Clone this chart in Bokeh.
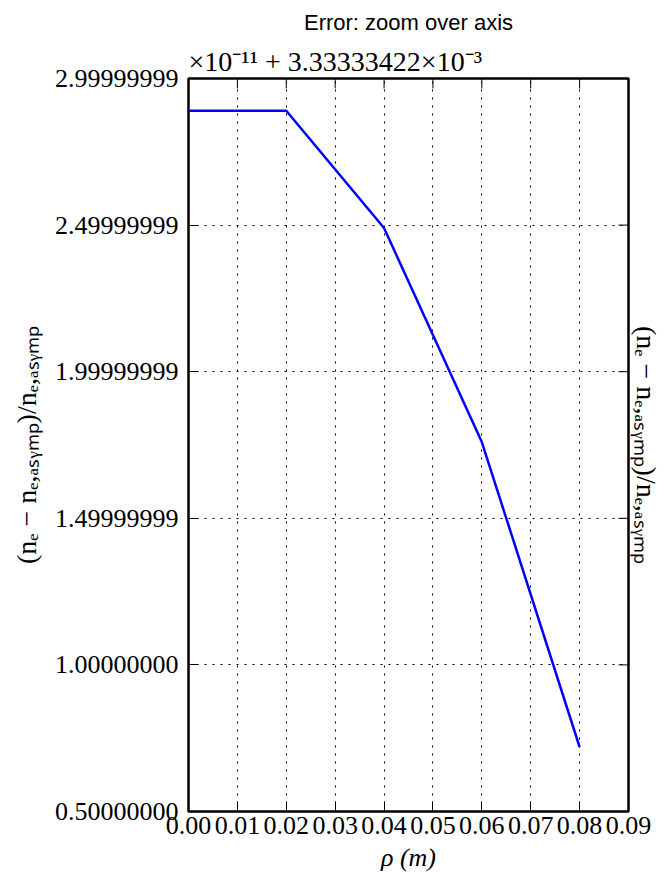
import math
from bokeh.plotting import figure
from bokeh.models import Range1d, FixedTicker, LinearAxis, Title
from bokeh.embed import file_html
from bokeh.resources import INLINE

# ---- data ----
rho = [0.0, 0.02, 0.04, 0.06, 0.08]
err = [2.89, 2.89, 2.49, 1.76, 0.72]

x_ticks = [0.0, 0.01, 0.02, 0.03, 0.04, 0.05, 0.06, 0.07, 0.08, 0.09]
x_tick_labels = ["0.00", "0.01", "0.02", "0.03", "0.04", "0.05", "0.06", "0.07", "0.08", "0.09"]
y_ticks = [0.5, 1.0, 1.5, 2.0, 2.5, 3.0]
y_tick_labels = ["0.50000000", "1.00000000", "1.49999999", "1.99999999", "2.49999999", "2.99999999"]

x_min, x_max = 0.0, 0.09
y_min, y_max = 0.5, 3.0

title_text = "Error: zoom over axis"
offset_text = "×10⁻¹¹ + 3.33333422×10⁻³"
y_label = "(nₑ − nₑ,ₐₛᵧₘₚ)/nₑ,ₐₛᵧₘₚ"
x_label = "ρ (m)"

SERIF = "Liberation Serif"
TICK_FS = "26px"

p = figure(width=664, height=879, title=None,
           min_border_left=188, min_border_right=28,
           min_border_top=77, min_border_bottom=68,
           x_range=Range1d(x_min, x_max), y_range=Range1d(y_min, y_max),
           output_backend="svg", toolbar_location=None,
           background_fill_color="white", border_fill_color="white")

p.outline_line_color = "black"
p.outline_line_width = 2.5
p.outline_line_alpha = 1.0

xt = FixedTicker(ticks=x_ticks)
yt = FixedTicker(ticks=y_ticks)

# grid
p.xgrid.ticker = xt
p.ygrid.ticker = yt
for g in (p.xgrid, p.ygrid):
    g.grid_line_color = "black"
    g.grid_line_width = 1
    g.grid_line_alpha = 1.0
    g.grid_line_dash = "2 6"

# data line
p.line(rho, err, line_color="#0000ff", line_width=2.5)

# inward ticks on the top and right edges
p.ray(x=x_ticks, y=[y_max] * len(x_ticks), length=10, length_units="screen",
      angle=-math.pi / 2, line_color="black", line_width=1)
p.ray(x=[x_max] * len(y_ticks), y=y_ticks, length=10, length_units="screen",
      angle=math.pi, line_color="black", line_width=1)

# bottom / left axes
xa = p.xaxis[0]
xa.ticker = xt
xa.major_label_overrides = dict(zip(x_ticks, x_tick_labels))
xa.axis_label = x_label
ya = p.yaxis[0]
ya.ticker = yt
ya.major_label_overrides = dict(zip(y_ticks, y_tick_labels))
ya.axis_label = y_label

for ax in (xa, ya):
    ax.axis_line_color = None
    ax.major_tick_in = 10
    ax.major_tick_out = 0
    ax.major_tick_line_color = "black"
    ax.major_tick_line_width = 1
    ax.minor_tick_line_color = None
    ax.major_label_text_font = SERIF
    ax.major_label_text_font_size = TICK_FS
    ax.major_label_text_color = "black"
    ax.axis_label_text_font = SERIF
    ax.axis_label_text_font_style = "normal"
    ax.axis_label_text_color = "black"

xa.major_label_standoff = 5
xa.axis_label_standoff = 6
xa.axis_label_text_font_size = "26px"
xa.axis_label_text_font_style = "italic"
ya.major_label_standoff = 10
ya.axis_label_standoff = 10
ya.axis_label_text_font_size = "28px"

# right axis: label only
ra = LinearAxis(ticker=FixedTicker(ticks=[]), axis_label=y_label)
ra.axis_line_color = None
ra.major_tick_line_color = None
ra.minor_tick_line_color = None
ra.major_label_standoff = 0
ra.major_tick_out = 0
ra.major_tick_in = 0
ra.axis_label_standoff = 2
ra.axis_label_text_font = SERIF
ra.axis_label_text_font_style = "normal"
ra.axis_label_text_font_size = "28px"
ra.axis_label_text_color = "black"
p.add_layout(ra, "right")

# offset text (closest to frame) then title
p.add_layout(Title(text=offset_text, align="left", standoff=4,
                   text_font=SERIF, text_font_size="28px",
                   text_font_style="normal", text_color="black"), "above")
p.add_layout(Title(text=title_text, align="center", standoff=14,
                   text_font="Liberation Sans", text_font_size="22px",
                   text_font_style="normal", text_color="black"), "above")

open("out.html", "w").write(file_html(p, INLINE))
